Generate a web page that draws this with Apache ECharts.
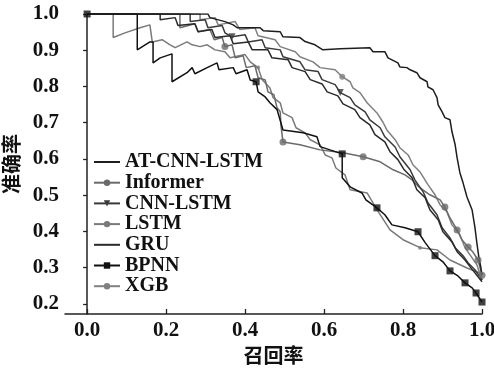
<!DOCTYPE html>
<html>
<head>
<meta charset="utf-8">
<script src="https://cdn.jsdelivr.net/npm/echarts@6/dist/echarts.min.js"></script>
<style>
  html, body { margin: 0; padding: 0; background: #fff; }
  #chart { width: 494px; height: 370px; }
</style>
</head>
<body>
<div id="chart"></div>
<script>
// recall / precision pairs
const xTicks = [0, 0.2, 0.4, 0.6, 0.8, 1.0];
const yTicks = [0.2, 0.3, 0.4, 0.5, 0.6, 0.7, 0.8, 0.9, 1.0];

const atCnnLstm = [
  [0, 1], [0.306, 1], [0.311, 0.990], [0.349, 0.979], [0.370, 0.970], [0.380, 0.962],
  [0.438, 0.962], [0.446, 0.954], [0.489, 0.951], [0.496, 0.937], [0.539, 0.935],
  [0.552, 0.924], [0.577, 0.915], [0.597, 0.901], [0.641, 0.904], [0.716, 0.907],
  [0.724, 0.896], [0.754, 0.896], [0.762, 0.879], [0.787, 0.865], [0.792, 0.854],
  [0.810, 0.852], [0.818, 0.846], [0.835, 0.838], [0.843, 0.824], [0.861, 0.813],
  [0.863, 0.799], [0.876, 0.791], [0.886, 0.769], [0.889, 0.749], [0.899, 0.730],
  [0.906, 0.714], [0.919, 0.708], [0.924, 0.675], [0.932, 0.639], [0.937, 0.603],
  [0.944, 0.562], [0.952, 0.534], [0.962, 0.495], [0.975, 0.459], [0.982, 0.412],
  [0.987, 0.368], [0.992, 0.329], [0.997, 0.301], [1.0, 0.279]
];

const informer = [
  [0, 1], [0.235, 1], [0.235, 0.962], [0.273, 0.973], [0.281, 0.951], [0.311, 0.957],
  [0.322, 0.929], [0.342, 0.935], [0.349, 0.910], [0.367, 0.915], [0.375, 0.879],
  [0.395, 0.885], [0.403, 0.852], [0.425, 0.857], [0.433, 0.824], [0.451, 0.818],
  [0.458, 0.785], [0.473, 0.777], [0.481, 0.741], [0.489, 0.730], [0.491, 0.691],
  [0.496, 0.647], [0.539, 0.639], [0.590, 0.625], [0.648, 0.617], [0.699, 0.606],
  [0.742, 0.592], [0.775, 0.570], [0.805, 0.556], [0.823, 0.542], [0.843, 0.520],
  [0.868, 0.501], [0.894, 0.487], [0.906, 0.467], [0.919, 0.437], [0.937, 0.404],
  [0.949, 0.377], [0.965, 0.357], [0.977, 0.343], [0.990, 0.321], [1.0, 0.279]
];
const informerMarks = [
  [0.349, 0.910], [0.496, 0.647], [0.699, 0.606], [0.906, 0.467], [0.937, 0.404],
  [0.965, 0.357], [0.990, 0.321], [1.0, 0.279]
];

const cnnLstm = [
  [0, 1], [0.261, 1], [0.261, 0.979], [0.299, 0.984], [0.306, 0.962], [0.342, 0.968],
  [0.349, 0.948], [0.367, 0.937], [0.400, 0.943], [0.408, 0.923], [0.443, 0.929],
  [0.451, 0.907], [0.489, 0.901], [0.496, 0.882], [0.539, 0.868], [0.552, 0.846],
  [0.585, 0.841], [0.595, 0.819], [0.628, 0.805], [0.641, 0.783], [0.666, 0.769],
  [0.678, 0.749], [0.704, 0.730], [0.716, 0.708], [0.742, 0.686], [0.754, 0.661],
  [0.780, 0.633], [0.792, 0.606], [0.818, 0.570], [0.830, 0.542], [0.851, 0.509],
  [0.863, 0.479], [0.886, 0.446], [0.899, 0.410], [0.919, 0.382], [0.932, 0.355],
  [0.952, 0.333], [0.965, 0.313], [0.982, 0.294], [1.0, 0.266]
];
const cnnLstmMarks = [[0.367, 0.937], [0.641, 0.783]];

const lstm = [
  [0, 1], [0.066, 1], [0.066, 0.935], [0.096, 0.948], [0.134, 0.962], [0.159, 0.970],
  [0.165, 0.923], [0.190, 0.929], [0.210, 0.915], [0.223, 0.907], [0.253, 0.923],
  [0.266, 0.915], [0.286, 0.910], [0.304, 0.915], [0.324, 0.901], [0.349, 0.896],
  [0.362, 0.879], [0.400, 0.888], [0.413, 0.868], [0.433, 0.852], [0.443, 0.819],
  [0.463, 0.796], [0.471, 0.769], [0.489, 0.755], [0.496, 0.727], [0.519, 0.714],
  [0.529, 0.686], [0.552, 0.672], [0.565, 0.653], [0.590, 0.639], [0.603, 0.611],
  [0.620, 0.603], [0.630, 0.575], [0.653, 0.556], [0.666, 0.515], [0.709, 0.506],
  [0.734, 0.460], [0.767, 0.404], [0.800, 0.377], [0.843, 0.355], [0.886, 0.349],
  [0.919, 0.321], [0.962, 0.299], [0.995, 0.285], [1.0, 0.266]
];
const lstmMarks = [[0.433, 0.852], [0.843, 0.355]];

const gru = [
  [0, 1], [0.185, 1], [0.185, 0.984], [0.223, 0.990], [0.230, 0.968], [0.273, 0.973],
  [0.281, 0.951], [0.316, 0.957], [0.324, 0.935], [0.362, 0.940], [0.370, 0.918],
  [0.408, 0.923], [0.418, 0.901], [0.458, 0.901], [0.468, 0.879], [0.509, 0.874],
  [0.519, 0.852], [0.552, 0.841], [0.565, 0.819], [0.595, 0.807], [0.608, 0.785],
  [0.635, 0.774], [0.648, 0.752], [0.678, 0.736], [0.691, 0.714], [0.716, 0.694],
  [0.729, 0.667], [0.754, 0.647], [0.767, 0.620], [0.787, 0.598], [0.803, 0.570],
  [0.823, 0.548], [0.835, 0.515], [0.856, 0.493], [0.868, 0.460], [0.889, 0.432],
  [0.901, 0.399], [0.924, 0.371], [0.937, 0.344], [0.957, 0.321], [0.970, 0.302],
  [1.0, 0.261]
];

const bpnn = [
  [0, 1], [0.127, 1], [0.127, 0.901], [0.159, 0.923], [0.167, 0.923], [0.167, 0.865],
  [0.185, 0.879], [0.215, 0.890], [0.215, 0.813], [0.253, 0.838], [0.266, 0.852],
  [0.273, 0.835], [0.304, 0.852], [0.329, 0.865], [0.334, 0.846], [0.370, 0.852],
  [0.377, 0.835], [0.405, 0.846], [0.413, 0.818], [0.428, 0.813], [0.433, 0.785],
  [0.451, 0.771], [0.463, 0.755], [0.481, 0.736], [0.496, 0.680], [0.547, 0.672],
  [0.582, 0.661], [0.590, 0.634], [0.615, 0.625], [0.646, 0.614], [0.646, 0.548],
  [0.666, 0.523], [0.696, 0.506], [0.706, 0.487], [0.734, 0.465], [0.754, 0.446],
  [0.772, 0.418], [0.805, 0.410], [0.838, 0.399], [0.856, 0.369], [0.881, 0.333],
  [0.901, 0.316], [0.919, 0.291], [0.939, 0.277], [0.957, 0.258], [0.975, 0.244],
  [0.985, 0.230], [1.0, 0.205]
];
const bpnnMarks = [
  [0, 1], [0.428, 0.813], [0.646, 0.614], [0.734, 0.465], [0.838, 0.399], [0.881, 0.333],
  [0.919, 0.291], [0.957, 0.258], [0.985, 0.230], [1.0, 0.205]
];

const xgb = [
  [0, 1], [0.286, 1], [0.286, 0.984], [0.324, 0.990], [0.332, 0.970], [0.375, 0.979],
  [0.387, 0.957], [0.425, 0.962], [0.433, 0.940], [0.476, 0.929], [0.489, 0.910],
  [0.527, 0.896], [0.539, 0.882], [0.572, 0.868], [0.590, 0.852], [0.628, 0.846],
  [0.646, 0.827], [0.666, 0.813], [0.673, 0.796], [0.691, 0.783], [0.709, 0.755],
  [0.734, 0.727], [0.749, 0.702], [0.759, 0.680], [0.780, 0.653], [0.792, 0.631],
  [0.813, 0.611], [0.825, 0.584], [0.843, 0.564], [0.863, 0.529], [0.881, 0.501],
  [0.894, 0.473], [0.911, 0.454], [0.924, 0.418], [0.944, 0.391], [0.957, 0.355],
  [0.975, 0.327], [0.987, 0.308], [1.0, 0.266]
];
const xgbMarks = [[0.646, 0.827]];

const serif = '"Liberation Serif", "Times New Roman", serif';
const cjk = '"Noto Sans CJK SC", sans-serif';

function curve(name, data, color, symbol, rotate) {
  return {
    name, type: 'line', data, showSymbol: false,
    symbol: symbol || 'circle', symbolRotate: rotate || 0,
    lineStyle: { width: 1.5, color }, itemStyle: { color },
    animation: false, z: 2
  };
}
function marks(name, data, color, symbol, size, rotate) {
  return {
    name, type: 'scatter', data, symbol, symbolSize: size, symbolRotate: rotate || 0,
    itemStyle: { color }, animation: false, z: 3
  };
}

const chart = echarts.init(document.getElementById('chart'));
chart.setOption({
  backgroundColor: '#fff',
  grid: { left: 65, right: 12, top: 14, bottom: 56, outerBoundsMode: 'none' },
  legend: {
    orient: 'vertical', left: 88, top: 147,
    itemWidth: 26, itemHeight: 8, itemGap: 0.7,
    textStyle: { fontFamily: serif, fontWeight: 'bold', fontSize: 20, color: '#111', lineHeight: 20 },
    data: [
      { name: 'AT-CNN-LSTM', itemStyle: { opacity: 0 } },
      'Informer', 'CNN-LSTM', 'LSTM',
      { name: 'GRU', itemStyle: { opacity: 0 } },
      'BPNN', 'XGB'
    ]
  },
  xAxis: {
    type: 'value', min: -0.056, max: 1.0,
    name: '召回率', nameLocation: 'middle', nameGap: 22,
    nameTextStyle: { fontFamily: cjk, fontWeight: 'bold', fontSize: 20, color: '#111' },
    splitLine: { show: false },
    axisLine: { lineStyle: { color: '#222', width: 1.5 } },
    axisTick: { inside: true, length: 5, customValues: xTicks, lineStyle: { color: '#222', width: 1.3 } },
    axisLabel: {
      customValues: xTicks, margin: 6, formatter: v => v.toFixed(1),
      fontFamily: serif, fontWeight: 'bold', fontSize: 21, color: '#111'
    }
  },
  yAxis: {
    type: 'value', min: 0.172, max: 1.0,
    name: '准确率', nameLocation: 'middle', nameGap: 33,
    nameTextStyle: { fontFamily: cjk, fontWeight: 'bold', fontSize: 20, color: '#111' },
    splitLine: { show: false },
    axisLine: { show: true, lineStyle: { color: '#222', width: 1.5 } },
    axisTick: { show: true, length: 4, customValues: yTicks, lineStyle: { color: '#222', width: 1.3 } },
    axisLabel: {
      customValues: yTicks, margin: 6, formatter: v => v.toFixed(1),
      fontFamily: serif, fontWeight: 'bold', fontSize: 21, color: '#111'
    }
  },
  series: [
    curve('LSTM', lstm, '#7a7a7a', 'circle'),
    curve('XGB', xgb, '#808080', 'circle'),
    curve('Informer', informer, '#6a6a6a', 'circle'),
    curve('CNN-LSTM', cnnLstm, '#3a3a3a', 'triangle', 180),
    curve('GRU', gru, '#2a2a2a', 'circle'),
    curve('BPNN', bpnn, '#111', 'rect'),
    curve('AT-CNN-LSTM', atCnnLstm, '#1e1e1e', 'circle'),
    marks('LSTM', lstmMarks, '#7a7a7a', 'circle', 4),
    marks('XGB', xgbMarks, '#808080', 'circle', 6),
    marks('Informer', informerMarks, '#6a6a6a', 'circle', 7),
    marks('CNN-LSTM', cnnLstmMarks, '#3a3a3a', 'triangle', 7, 180),
    marks('BPNN', bpnnMarks, '#111', 'rect', 7)
  ]
});
</script>
</body>
</html>
